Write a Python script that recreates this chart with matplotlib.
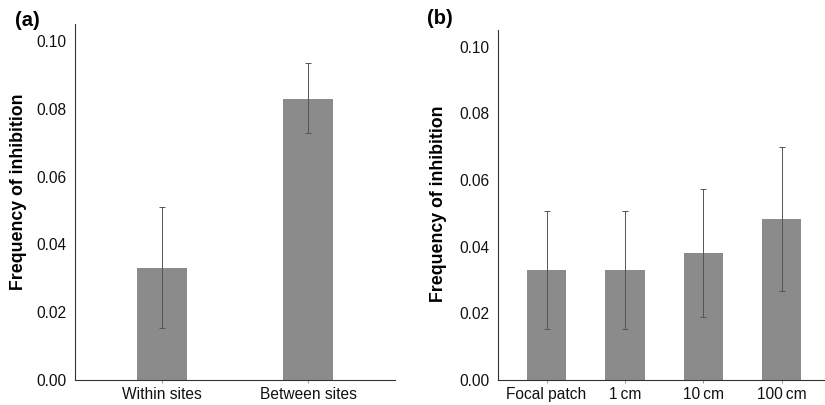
import matplotlib
matplotlib.use("Agg")
import matplotlib.pyplot as plt

plt.rcParams['font.family'] = ['Liberation Sans', 'DejaVu Sans']

# Panel (a): within vs between sites
cats_a = ["Within sites", "Between sites"]
vals_a = [0.033, 0.083]
low_a = [0.0153, 0.0729]
high_a = [0.051, 0.0935]

# Panel (b): distance from focal patch
cats_b = ["Focal patch", "1\u2009cm", "10\u2009cm", "100\u2009cm"]
vals_b = [0.033, 0.033, 0.038, 0.0483]
low_b = [0.0152, 0.0152, 0.019, 0.0268]
high_b = [0.0508, 0.0508, 0.0574, 0.0699]

yticks = [0.00, 0.02, 0.04, 0.06, 0.08, 0.10]

bar_col = "#8b8b8b"
err_col = "#555555"

fig = plt.figure(figsize=(8.25, 4.05), dpi=100)
ax1 = fig.add_axes([0.0909, 0.0617, 0.3879, 0.879])
ax2 = fig.add_axes([0.6036, 0.0617, 0.3964, 0.8643])


def draw_panel(ax, cats, vals, low, high, width, xlim):
    x = list(range(len(cats)))
    err = [[v - l for v, l in zip(vals, low)], [h - v for v, h in zip(vals, high)]]
    ax.bar(x, vals, width=width, color=bar_col, edgecolor="none", zorder=2)
    ax.errorbar(x, vals, yerr=err, fmt="none", ecolor=err_col, elinewidth=0.7,
                capsize=2.5, capthick=0.7, zorder=3)
    ax.set_xlim(xlim)
    ax.set_ylim(0, 0.105)
    ax.set_yticks(yticks)
    ax.set_yticklabels(["%.2f" % t for t in yticks])
    ax.set_xticks(x)
    ax.set_xticklabels(cats)
    ax.spines["top"].set_visible(False)
    ax.spines["right"].set_visible(False)
    ax.spines["left"].set_color("#333333")
    ax.spines["bottom"].set_color("#333333")
    ax.tick_params(axis="y", length=0, labelsize=11.2, pad=6, colors="#111111")
    ax.tick_params(axis="x", length=2, width=0.6, color="#888888", labelsize=11.2,
                   pad=3, labelcolor="#111111")
    ax.set_ylabel("Frequency of inhibition", fontsize=12.8, fontweight="bold")


draw_panel(ax1, cats_a, vals_a, low_a, high_a, 0.34, (-0.596, 1.596))
ax1.yaxis.set_label_coords(-0.15, 0.53)
ax1.text(-0.1875, 1.01, "(a)", transform=ax1.transAxes, fontsize=14.5,
         fontweight="bold", va="center", ha="left")

draw_panel(ax2, cats_b, vals_b, low_b, high_b, 0.5, (-0.62, 3.55))
ax2.yaxis.set_label_coords(-0.156, 0.503)
ax2.text(-0.217, 1.033, "(b)", transform=ax2.transAxes, fontsize=14.5,
         fontweight="bold", va="center", ha="left")

fig.savefig("out.png", dpi=100)
